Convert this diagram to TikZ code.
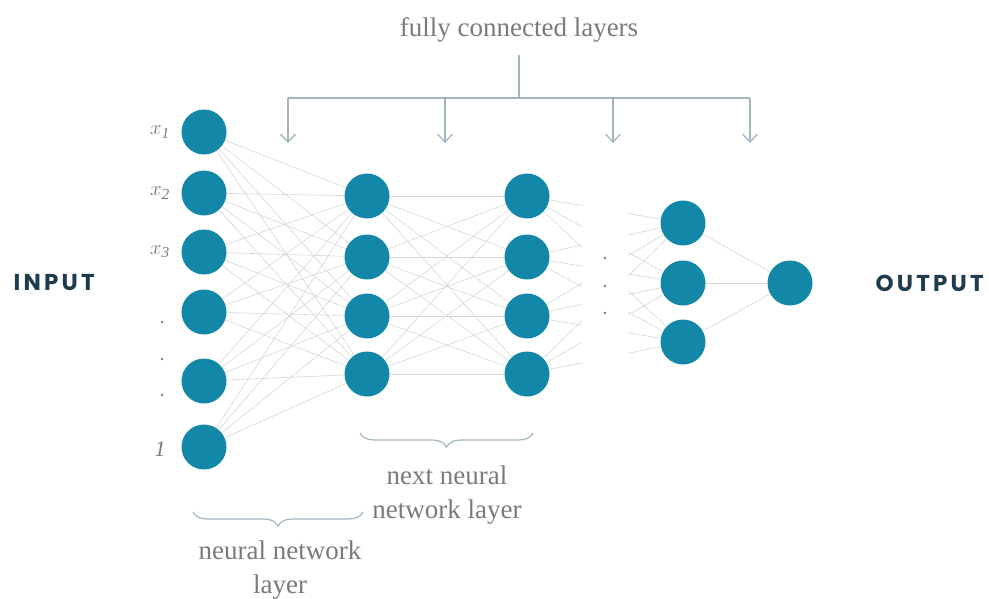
\documentclass[tikz,border=0pt]{standalone}
\usepackage{fontspec}
\setmainfont{Liberation Serif}
\newfontfamily\headfont[LetterSpace=14]{Poppins}
\usetikzlibrary{arrows.meta,decorations.pathreplacing}
\definecolor{nodeblue}{HTML}{1387A8}
\definecolor{edgegray}{HTML}{D6D6D6}
\definecolor{annot}{HTML}{A3B6BE}
\definecolor{txtgray}{HTML}{7A7A7A}
\definecolor{headnavy}{HTML}{1E3C4E}
\begin{document}
\begin{tikzpicture}[x=1pt,y=-1pt,
  neuron/.style={circle,fill=nodeblue,minimum size=45pt,inner sep=0pt},
  conn/.style={draw=edgegray,line width=0.6pt},
  annotline/.style={draw=annot,line width=1.3pt},
  annotarrow/.style={annotline,-{Straight Barb[length=8pt,width=15pt,line width=1.3pt]}},
  bracestyle/.style={draw=annot,line width=1.2pt,decorate,decoration={brace,amplitude=14pt,mirror}},
  lbl/.style={text=txtgray,font=\fontsize{27}{34}\selectfont,align=center},
  inlbl/.style={text=txtgray,font=\fontsize{22}{26}\selectfont\itshape},
  head/.style={text=headnavy,font=\headfont\bfseries\fontsize{23}{26}\selectfont},
  dotn/.style={circle,fill=txtgray,inner sep=0pt,minimum size=2.6pt}]
\useasboundingbox (0,0) rectangle (989,598);
% layer 1
\foreach \i/\y in {1/132,2/193,3/252,4/312,5/381,6/447}
  \node[neuron] (a\i) at (204,\y) {};
% layer 2
\foreach \i/\y in {1/196,2/257,3/316,4/374}
  \node[neuron] (b\i) at (367,\y) {};
% layer 3
\foreach \i/\y in {1/196,2/257,3/316,4/374}
  \node[neuron] (c\i) at (527,\y) {};
% layer 4
\foreach \i/\y in {1/223,2/283,3/342}
  \node[neuron] (d\i) at (683,\y) {};
% output
\node[neuron] (o) at (790,283) {};
% edges
\foreach \i in {1,...,6}
  \foreach \j in {1,...,4}
    \draw[conn] (a\i) -- (b\j);
\foreach \i in {1,...,4}
  \foreach \j in {1,...,4}
    \draw[conn] (b\i) -- (c\j);
\begin{scope}
  \clip (500,150) rectangle (582,420);
  \foreach \i in {1,...,4}
    \foreach \j in {1,...,3}
      \draw[conn] (c\i) -- (d\j);
\end{scope}
\begin{scope}
  \clip (628,150) rectangle (700,420);
  \foreach \i in {1,...,4}
    \foreach \j in {1,...,3}
      \draw[conn] (c\i) -- (d\j);
\end{scope}
\foreach \j in {1,...,3}
  \draw[conn] (d\j) -- (o);
% input labels
\node[inlbl] (l1) at (160,132) {$x_{\mathit 1}$};
\node[inlbl] (l2) at (160,193) {$x_{\mathit 2}$};
\node[inlbl] (l3) at (160,252) {$x_{\mathit 3}$};
\node[inlbl] (l6) at (160,449) {1};
\node[dotn] (p1) at (162,322) {};
\node[dotn] (p2) at (162,359) {};
\node[dotn] (p3) at (162,395) {};
\node[dotn] (q1) at (605,258) {};
\node[dotn] (q2) at (605,286) {};
\node[dotn] (q3) at (605,313) {};
% side labels
\node[head,anchor=west] (inp) at (10,283) {INPUT};
\node[head,anchor=west] (outp) at (872,283) {OUTPUT};
% top annotation
\node[lbl] (fc) at (519,30) {fully connected layers};
\coordinate (hub) at (519,98);
\coordinate (hl) at (288,98);
\coordinate (hr) at (750,98);
\coordinate (t1) at (288,143);
\coordinate (t2) at (445,143);
\coordinate (t3) at (613,143);
\coordinate (t4) at (750,143);
\coordinate (s2) at (445,98);
\coordinate (s3) at (613,98);
\draw[annotline] (519,55) -- (hub);
\draw[annotline] (hl) -- (hr);
\draw[annotarrow] (hl) -- (t1);
\draw[annotarrow] (s2) -- (t2);
\draw[annotarrow] (s3) -- (t3);
\draw[annotarrow] (hr) -- (t4);
% braces
\coordinate (bl1) at (193,512);
\coordinate (bl2) at (363,512);
\draw[bracestyle] (bl1) -- (bl2);
\node[lbl] (nnl) at (280,570) {neural network\\layer};
\coordinate (bu1) at (360,433);
\coordinate (bu2) at (533,433);
\draw[bracestyle] (bu1) -- (bu2);
\node[lbl] (nnnl) at (447,495) {next neural\\network layer};
\end{tikzpicture}
\end{document}
